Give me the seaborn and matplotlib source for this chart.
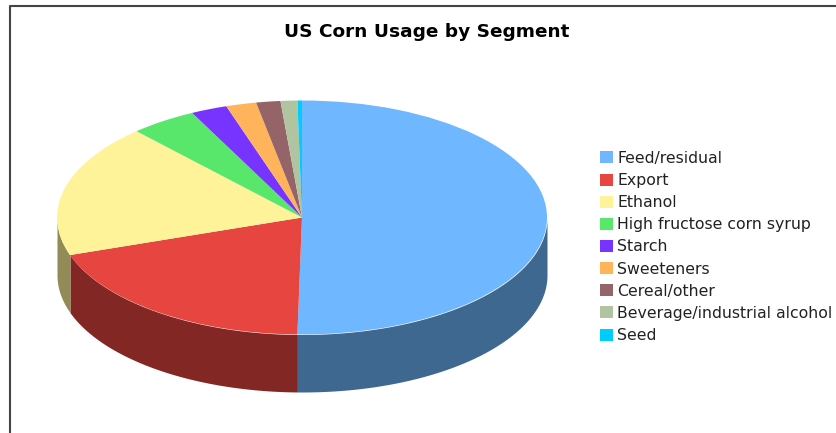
import numpy as np
import matplotlib
matplotlib.use("Agg")
import matplotlib.pyplot as plt
import seaborn as sns

categories = ["Feed/residual", "Export", "Ethanol", "High fructose corn syrup", "Starch",
              "Sweeteners", "Cereal/other", "Beverage/industrial alcohol", "Seed"]
usage_share = [50.3, 19.5, 18.4, 4.4, 2.4, 2.0, 1.6, 1.1, 0.3]
slice_colors = ["#6FB7FF", "#E64540", "#FFF39A", "#58E66B", "#7733FF",
                "#FFB35A", "#956469", "#B0C4A0", "#00CCFF"]

sns.set_theme(style="white")
plt.rcParams["font.family"] = ["DejaVu Sans"]

W, H = 836, 433
fig = plt.figure(figsize=(W / 100, H / 100), dpi=100, facecolor="white")
ax = fig.add_axes([0, 0, 1, 1])

# Ellipse geometry in pixels; the axes run in units of the disc radius.
cx, cy, rx, ry, depth_px = 302, 217.5, 245, 117, 57.5
depth = depth_px / ry

wedges, _ = ax.pie(usage_share, colors=slice_colors, startangle=90, counterclock=False,
                   radius=1, center=(0, 0), wedgeprops={"linewidth": 0, "zorder": 3}, frame=False)

# Rim of the disc: one darker band for every slice that reaches the front half.
shade = 0.57
edges = 90 - np.cumsum([0] + usage_share) * 3.6
for start, stop, color in zip(edges[:-1], edges[1:], slice_colors):
    theta = np.radians(np.linspace(start, stop, 200))
    front = np.sin(theta) <= 0
    if front.any():
        x, y = np.cos(theta[front]), np.sin(theta[front])
        dark = tuple(c * shade for c in matplotlib.colors.to_rgb(color))
        ax.fill_between(x, y, y - depth, color=dark, linewidth=0, zorder=2)

ax.set_aspect("auto")
ax.set_xlim(-cx / rx, (W - cx) / rx)
ax.set_ylim((cy - H) / ry, cy / ry)
ax.axis("off")

# Open frame along the left and top of the figure.
frame_color = "#444444"
fig.add_artist(plt.Line2D([10 / W, 10 / W, 1], [0, 1 - 6 / H, 1 - 6 / H],
                          color=frame_color, linewidth=1.5, transform=fig.transFigure))

fig.text(427 / W, 1 - 32 / H, "US Corn Usage by Segment", ha="center", va="center",
         fontsize=13.3, fontweight="bold", color="black")

legend = ax.legend(wedges, categories, loc="center left",
                   bbox_to_anchor=(600 / W, 1 - 247 / H), bbox_transform=fig.transFigure,
                   frameon=False, fontsize=11.3, handlelength=0.8, handleheight=0.8,
                   handletextpad=0.3, labelspacing=0.455, borderpad=0, borderaxespad=0,
                   labelcolor="#222222")

fig.savefig("out.png", dpi=100)
